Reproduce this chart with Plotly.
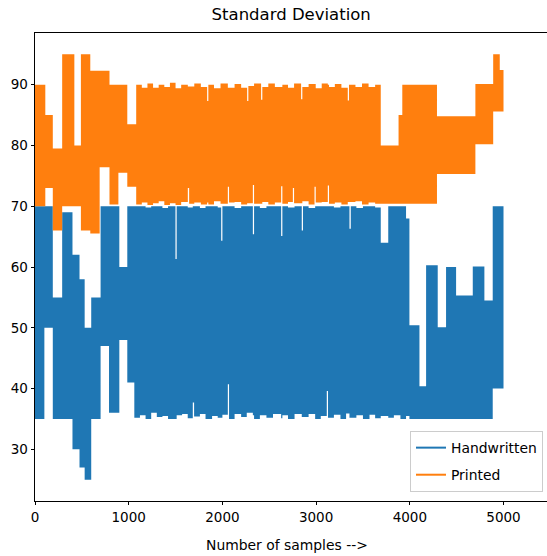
import plotly.graph_objects as go

# ---- data: envelopes of the noisy per-sample series ----
# each segment starts at *_x[i] and ends at *_x[i+1]; hi/lo = upper/lower extent of the signal
hand_x = [0, 100, 190, 290, 400, 475, 530, 600, 700, 790, 900, 985,
          1060, 1120, 1180, 1240, 1300, 1360, 1420, 1499, 1512, 1570, 1630, 1684, 1698, 1760,
          1820, 1890, 1950, 1987, 2000, 2058, 2071, 2130, 2200, 2260, 2325, 2338, 2400, 2470,
          2540, 2627, 2640, 2700, 2770, 2847, 2860, 2920, 2990, 3050, 3114, 3127, 3190, 3260,
          3320, 3356, 3370, 3430, 3500, 3570, 3630, 3690, 3770, 3830, 3900, 3960,
          3996, 4103, 4174, 4298, 4387, 4494, 4672, 4796, 4885, 5000]
hand_hi = [70, 70, 55, 69, 62, 58, 50, 55, 70, 70, 60, 70,
           70, 70, 69.8, 70, 70, 69.7, 70, 61.3, 70, 70, 69.8, 70, 70, 69.7,
           70, 70, 69.8, 64.3, 70, 70, 70, 69.7, 70, 70, 65.4, 70, 69.7, 70,
           70, 65.1, 70, 69.8, 70, 66, 70, 69.7, 70, 70, 70, 70, 69.8, 70,
           70, 66.3, 70, 69.7, 70, 70, 69.8, 64, 70, 70, 70, 68,
           50.4, 40.4, 60.3, 50.1, 60, 55.3, 60.1, 54.5, 70]
hand_lo = [35, 50, 35, 35, 30, 27, 25, 35, 47, 36, 48, 41,
           35.2, 35.6, 35, 36, 35.3, 35.5, 35, 35, 35.6, 35.8, 35.1, 37.7, 35.4, 35.8,
           35, 35.5, 35.2, 35.2, 35.7, 40.7, 35, 35.8, 35.3, 36, 35.6, 35, 35.6, 35.2,
           35.8, 35.1, 35.6, 35, 35.8, 35.3, 35.3, 35.8, 35, 35.5, 39.6, 35.2, 35.7, 35,
           35.9, 35.2, 35.2, 35.6, 35, 35.7, 35.1, 35.5, 35.2, 35.6, 35, 35.5,
           35, 35, 35, 35, 35, 35, 35, 35, 40]

print_x = [0, 110, 190, 290, 420, 490, 590, 690, 795, 890, 985,
           1080, 1140, 1200, 1260, 1320, 1380, 1440, 1500, 1560, 1631, 1645, 1700, 1770, 1837,
           1850, 1910, 1980, 2058, 2071, 2130, 2200, 2264, 2277, 2325, 2338, 2413, 2426, 2490,
           2560, 2627, 2640, 2700, 2752, 2765, 2840, 2853, 2920, 2983, 2996, 3060, 3125, 3138,
           3200, 3270, 3338, 3351, 3420, 3490, 3560, 3630,
           3690, 3880, 3920, 4290, 4700, 4890, 4960, 5000]
print_hi = [90, 85, 79.5, 95, 80, 95, 92.3, 92.3, 90, 90, 83.5,
            90, 89.5, 90.2, 89.5, 90, 89.6, 90.3, 89.4, 90, 89.7, 89.7, 90.2, 89.6, 87.3,
            90, 89.4, 90.2, 89.5, 89.5, 90.1, 89.5, 87.3, 89.8, 89.8, 90.2, 87.5, 89.6, 90.2,
            89.6, 89.6, 90, 89.5, 89.5, 90.2, 87.6, 89.6, 90.1, 90.1, 89.4, 90.2, 90, 89.6,
            90.1, 89.5, 87.4, 90, 89.6, 90.2, 89.6, 90,
            80, 85, 90, 84.8, 90.1, 95, 92.4]
print_lo = [70, 73, 66, 70, 70, 66, 65.5, 76.4, 70.3, 75.5, 73.2,
            70.3, 70.6, 70.2, 70.5, 70.8, 70.2, 70.5, 70.2, 70.7, 73, 70.4, 70.6, 70.3, 70.6,
            70.3, 70.8, 70.4, 73.2, 70.6, 70.7, 70.3, 70.5, 70.5, 73.5, 70.4, 70.4, 70.7, 70.3,
            70.6, 73.3, 70.4, 70.7, 73, 70.5, 70.5, 70.8, 70.3, 73.2, 70.6, 70.7, 73.4, 70.4,
            70.6, 70.3, 70.7, 70.7, 70.8, 70.3, 70.6, 70.4,
            70.4, 70.4, 70.4, 75.3, 80.2, 85.6, 85.6]

series = [
    ("Handwritten", "#1f77b4", hand_x, hand_hi, hand_lo),
    ("Printed", "#ff7f0e", print_x, print_hi, print_lo),
]

FONT = "DejaVu Sans, Liberation Sans, sans-serif"
fig = go.Figure()

for name, color, xs, hi, lo in series:
    fig.add_trace(go.Scatter(x=xs, y=lo + [lo[-1]], mode="lines", line=dict(width=0, color=color, shape="hv"),
                             showlegend=False, hoverinfo="skip"))
    fig.add_trace(go.Scatter(x=xs, y=hi + [hi[-1]], mode="lines", line=dict(width=0, color=color, shape="hv"),
                             fill="tonexty", fillcolor=color, showlegend=False, hoverinfo="skip"))

for name, color, xs, hi, lo in series:
    fig.add_trace(go.Scatter(x=[None], y=[None], mode="lines", name=name,
                             line=dict(color=color, width=2), legendgroup=name))

axis_common = dict(showgrid=False, zeroline=False, showline=True, linecolor="black", linewidth=0.8,
                   ticks="outside", ticklen=3.5, tickwidth=0.8, tickcolor="black",
                   tickfont=dict(family=FONT, size=13.5, color="black"))

# the axes box continues past the right edge of the 547 px view (as in the cropped reference)
fig.update_xaxes(range=[0, 5603], tickvals=[0, 1000, 2000, 3000, 4000, 5000], mirror=True, **axis_common)
fig.update_yaxes(range=[21.5, 98.5], tickvals=[30, 40, 50, 60, 70, 80, 90], mirror=False, **axis_common)

fig.update_layout(
    width=560, height=556,
    margin=dict(l=35, r=0, t=33, b=55),
    plot_bgcolor="white", paper_bgcolor="white",
    hovermode=False,
    title=dict(text="Standard Deviation", x=0.488, xref="paper", y=1 - 14 / 556, yref="container",
               xanchor="center", yanchor="middle", font=dict(family=FONT, size=16.5, color="black")),
    legend=dict(x=0.9676, y=0.019, xanchor="right", yanchor="bottom",
                bgcolor="rgba(255,255,255,0.8)", bordercolor="#cccccc", borderwidth=1,
                font=dict(family=FONT, size=13.9, color="black"), tracegroupgap=6, itemwidth=30),
    annotations=[dict(text="Number of samples -->", x=0.48, xref="paper", y=-0.094, yref="paper",
                      xanchor="center", yanchor="middle", showarrow=False,
                      font=dict(family=FONT, size=13.9, color="black"))],
)

fig.write_html("out.html", config={"displayModeBar": False},
               post_script="document.body.style.margin='0';document.body.style.overflow='hidden';"
                           "document.documentElement.style.overflow='hidden';")
